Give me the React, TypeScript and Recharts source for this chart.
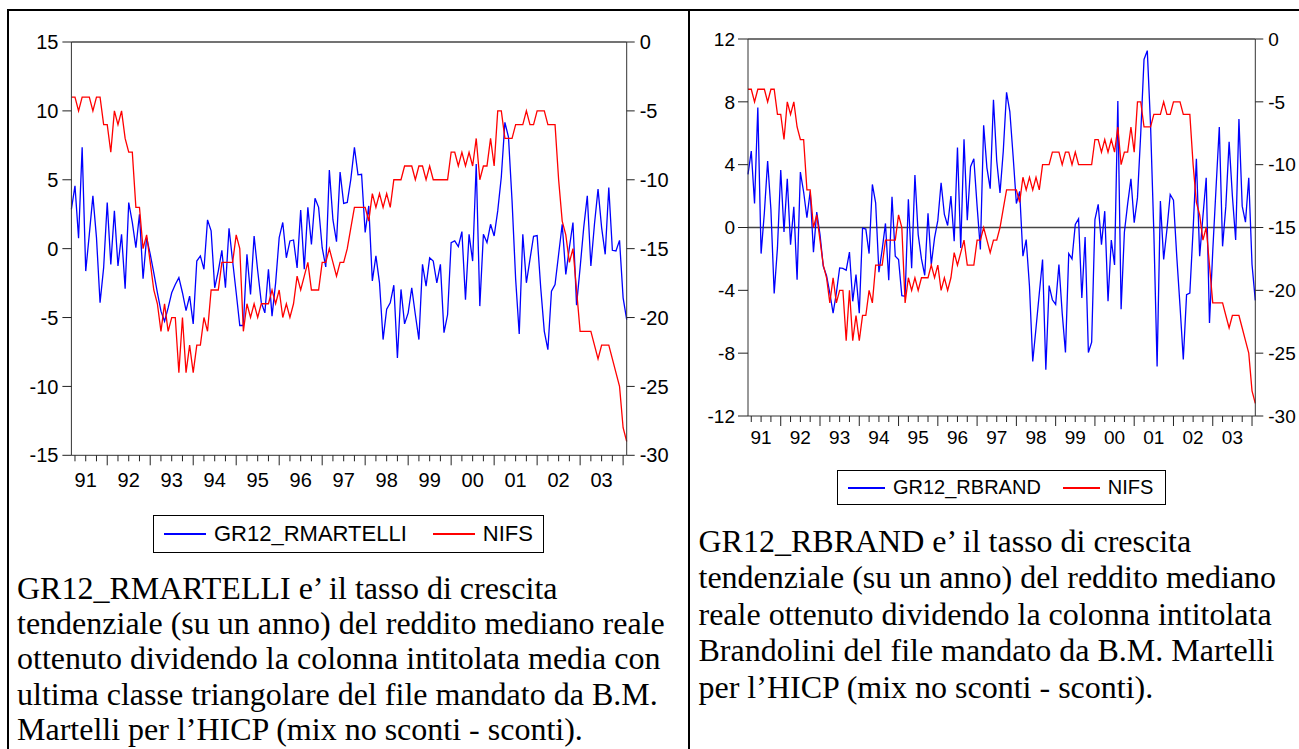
import { LineChart, Line, XAxis, YAxis, ReferenceLine, Legend } from 'recharts';

const SANS = '"Liberation Sans", Arial, sans-serif';
const SERIF = '"Liberation Serif", "Times New Roman", serif';

// monthly observations, first one is 1991M03
const FIRST_MONTH = 2;
const yearLabels = ['91', '92', '93', '94', '95', '96', '97', '98', '99', '00', '01', '02', '03'];

const BLUE = '#0000ff';
const RED = '#ff0000';

const nifs = [
  -4, -4, -5, -4, -4, -4, -5, -4, -4, -6, -6, -8,
  -5, -6, -5, -7, -8, -8, -12, -12, -15, -14, -16, -18,
  -19, -21, -19, -21, -20, -20, -24, -20, -24, -22, -24, -22,
  -22, -20, -21, -18, -18, -18, -16, -16, -16, -16, -14, -15,
  -21, -19, -20, -19, -20, -19, -19, -19, -18, -19, -18, -20,
  -19, -20, -19, -17, -18, -17, -16, -18, -18, -18, -16, -16,
  -15, -16, -17, -16, -16, -15, -13.5, -12, -12, -12, -12, -13,
  -11, -12, -11, -12, -11, -12, -10, -10, -10, -9, -9, -9,
  -10, -9, -9, -10, -9, -10, -10, -10, -10, -10, -8, -8,
  -9, -8, -9, -8, -9, -7, -10, -9, -9, -7, -9, -5,
  -5, -7, -7, -7, -6, -6, -6, -5, -6, -6, -5, -5,
  -5, -6, -6, -6, -10, -13, -14, -16, -15, -18, -21, -21,
  -21, -21, -22, -23, -22, -22, -22, -23, -24, -25, -28, -29,
];

const gr12Rmartelli = [
  2.86, 4.56, 0.75, 7.35, -1.63, 1.04, 3.83, 0.8, -3.93, -1.38, 3.35, -1.14,
  2.74, -1.26, 1.04, -2.91, 3.35, 1.9, 0.07, 2.5, -2.18, 0.8, -0.4, -1.75,
  -3.2, -4.54, -5.27, -4.3, -3.2, -2.6, -2.1, -3.2, -4.5, -3.45, -5.46, -0.9,
  -0.53, -1.5, 2.09, 1.29, -2.84, -1.63, -0.12, -2.84, 1.48, -0.9, -3.2, -5.58,
  -5.58, -0.41, -3.33, 0.92, -1.6, -3.9, -4.66, -1.5, -4.9, -2.5, 0.8, 1.9,
  -0.66, 0.56, 0.63, -1.4, 2.8, -1.5, 3.0, 0.3, 3.66, 3.0, 0.07, -1.33,
  5.7, 2.1, 0.5, 5.56, 3.28, 3.35, 5.05, 7.35, 5.36, 5.4, 1.17, 3.1,
  -2.35, -0.53, -2.48, -6.6, -4.4, -3.93, -2.65, -7.94, -2.96, -5.46, -4.66, -2.84,
  -4.78, -6.6, -1.14, -2.72, -0.66, -0.9, -2.48, -1.14, -6.1, -4.8, 0.44, 0.56,
  0.15, 1.24, -3.7, 1.04, -0.9, 6.14, -4.17, 1.04, 0.44, 1.77, 0.92, 2.74,
  5.2, 9.17, 8.1, 3.47, -2.2, -6.2, 1.04, -2.48, -0.78, 0.9, 0.95, -2.84,
  -6.0, -7.33, -3.08, -2.6, -0.41, 1.77, -1.87, 0.07, 1.9, -4.1, -1.38, 1.53,
  3.83, -1.26, 1.77, 4.32, 1.53, -0.41, 4.44, -0.12, -0.17, 0.6, -3.57, -5.15,
];

const gr12Rbrand = [
  3.38, 4.87, 1.53, 7.64, -1.66, 0.94, 4.23, 1.15, -4.2, -1.3, 3.66, -0.28,
  3.1, -1.09, 1.32, -3.32, 3.53, 2.26, 0.62, 2.3, -1.57, 0.98, -0.45, -2.47,
  -3.06, -4.17, -5.45, -4.17, -2.57, -2.6, -2.72, -1.57, -4.7, -3.0, -5.45, -0.04,
  -0.1, -1.66, 2.74, 1.57, -2.85, -1.4, 0.26, -3.36, 1.96, -1.83, -2.04, -4.34,
  -4.38, 1.79, -2.6, 3.34, -0.45, -2.0, -3.04, 0.9, -2.36, -0.66, 0.45, 2.85,
  0.83, 0.13, 2.0, -0.87, 5.09, -1.3, 5.62, 0.47, 3.87, 4.38, 1.36, -1.4,
  6.51, 3.8, 2.47, 8.13, 4.23, 2.2, 4.87, 8.6, 7.38, 4.55, 1.53, 2.3,
  -1.83, -0.77, -3.74, -8.53, -6.4, -4.2, -2.04, -9.06, -3.7, -4.6, -4.9, -2.36,
  -5.45, -7.96, -1.66, -2.0, 0.19, 0.55, -4.49, -0.6, -7.96, -7.3, 0.5, 1.47,
  -1.09, 1.04, -4.7, -0.8, -2.38, 8.06, -5.2, -0.3, 1.5, 3.1, 0.3, 1.9,
  6.0, 10.7, 11.26, 6.5, -0.3, -8.85, 1.68, -2.04, -0.13, 2.1, 1.74, -1.83,
  -5.0, -8.4, -4.28, -4.17, -0.13, 4.38, -1.83, 0.72, 3.17, -6.08, -1.5, 2.5,
  6.4, -1.2, 1.36, 5.45, 2.0, -0.8, 6.9, 1.36, 0.34, 3.17, -2.36, -4.64,
];

const martelliTicks = [-15, -10, -5, 0, 5, 10, 15];
const brandTicks = [-12, -8, -4, 0, 4, 8, 12];
const nifsTicks = [-30, -25, -20, -15, -10, -5, 0];

const rows = nifs.map((v, i) => ({
  i,
  nifs: v,
  martelli: gr12Rmartelli[i],
  brand: gr12Rbrand[i],
}));

// quarter boundaries; January ones get the long tick, July ones carry the year label
const quarterTicks = rows.map((r) => r.i).filter((i) => (i + FIRST_MONTH) % 3 === 0);

const makeMonthTick = (labelDy: number, fontSize: number) => (props: any) => {
  const { x, y, payload } = props;
  const n = payload.value + FIRST_MONTH;
  const m = n % 12;
  const len = m === 0 ? 10 : 6;
  return (
    <g>
      <line x1={x} x2={x} y1={y} y2={y + len} stroke="#222" strokeWidth={1} />
      {m === 6 && (
        <text x={x} y={y + labelDy} textAnchor="middle" fontSize={fontSize} fill="#000" fontFamily={SANS}>
          {yearLabels[Math.floor(n / 12)]}
        </text>
      )}
    </g>
  );
};

const makeLegend = (fontSize: number, pad: number, sample: number, gap: number, between: number) => (props: any) => {
  const items = props.payload || [];
  return (
    <div
      style={{
        boxSizing: 'border-box',
        width: '100%',
        height: '100%',
        border: '1px solid #000',
        background: '#fff',
        display: 'flex',
        alignItems: 'center',
        paddingLeft: pad,
        fontFamily: SANS,
        fontSize,
        color: '#000',
        whiteSpace: 'nowrap',
      }}
    >
      {items.map((p: any, k: number) => (
        <span key={p.value} style={{ display: 'flex', alignItems: 'center', marginLeft: k === 0 ? 0 : between }}>
          <svg width={sample} height={6} style={{ marginRight: gap, display: 'block' }}>
            <line
              x1={0}
              x2={sample}
              y1={3}
              y2={3}
              stroke={p.dataKey === 'nifs' ? RED : BLUE}
              strokeWidth={1.5}
              shapeRendering="crispEdges"
            />
          </svg>
          {p.value}
        </span>
      ))}
    </div>
  );
};

type PanelProps = {
  left: number;
  width: number;
  height: number;
  margin: { top: number; right: number; bottom: number; left: number };
  leftWidth: number;
  rightWidth: number;
  blueKey: string;
  blueName: string;
  leftDomain: [number, number];
  leftTicks: number[];
  zeroLine: boolean;
  fontSize: number;
  labelDy: number;
  legendStyle: any;
  legendContent: any;
  leftTickSize: number;
  leftTickMargin: number;
};

function Panel(p: PanelProps) {
  const tickStyle = { fill: '#000', fontSize: p.fontSize, fontFamily: SANS };
  return (
    <div style={{ position: 'absolute', left: p.left, top: 0 }}>
      <LineChart width={p.width} height={p.height} data={rows} margin={p.margin}>
        <XAxis
          dataKey="i"
          type="number"
          domain={[0, rows.length - 1]}
          ticks={quarterTicks}
          interval={0}
          tickSize={0}
          tickMargin={0}
          tickLine={false}
          axisLine={{ stroke: '#333' }}
          height={30}
          tick={makeMonthTick(p.labelDy, p.fontSize)}
        />
        <YAxis
          yAxisId="l"
          orientation="left"
          width={p.leftWidth}
          domain={p.leftDomain}
          ticks={p.leftTicks}
          interval={0}
          tickSize={p.leftTickSize}
          tickMargin={p.leftTickMargin}
          axisLine={{ stroke: '#333' }}
          tickLine={{ stroke: '#222' }}
          tick={tickStyle}
        />
        <YAxis
          yAxisId="r"
          orientation="right"
          width={p.rightWidth}
          domain={[-30, 0]}
          ticks={nifsTicks}
          interval={0}
          tickSize={8}
          tickMargin={5}
          axisLine={{ stroke: '#333' }}
          tickLine={{ stroke: '#222' }}
          tick={tickStyle}
        />
        <ReferenceLine yAxisId="l" y={p.leftDomain[1]} stroke="#444" strokeWidth={1.3} />
        {p.zeroLine && <ReferenceLine yAxisId="l" y={0} stroke="#444" strokeWidth={1.3} />}
        <Line
          yAxisId="l"
          type="linear"
          dataKey={p.blueKey}
          name={p.blueName}
          stroke={BLUE}
          strokeWidth={1.3}
          dot={false}
          isAnimationActive={false}
        />
        <Line
          yAxisId="r"
          type="linear"
          dataKey="nifs"
          name="NIFS"
          stroke={RED}
          strokeWidth={1.3}
          dot={false}
          isAnimationActive={false}
        />
        <Legend
          layout="vertical"
          align="center"
          verticalAlign="middle"
          wrapperStyle={p.legendStyle}
          content={p.legendContent}
        />
      </LineChart>
    </div>
  );
}

const leftNote = [
  'GR12_RMARTELLI e’ il tasso di crescita',
  'tendenziale (su un anno) del reddito mediano reale',
  'ottenuto dividendo la colonna intitolata media con',
  'ultima classe triangolare del file mandato da B.M.',
  'Martelli per l’HICP (mix no sconti - sconti).',
];

const rightNote = [
  'GR12_RBRAND e’ il tasso di crescita',
  'tendenziale (su un anno) del reddito mediano',
  'reale ottenuto dividendo la colonna intitolata',
  'Brandolini del file mandato da B.M. Martelli',
  'per l’HICP (mix no sconti - sconti).',
];

export default function App() {
  return (
    <div
      style={{
        position: 'absolute',
        left: 0,
        top: 0,
        width: 1299,
        height: 749,
        background: '#fff',
        overflow: 'hidden',
      }}
    >
      <Panel
        left={0}
        width={688}
        height={560}
        margin={{ top: 42, right: 6.3, bottom: 74.7, left: 11.4 }}
        leftWidth={60}
        rightWidth={55}
        blueKey="martelli"
        blueName="GR12_RMARTELLI"
        leftDomain={[-15, 15]}
        leftTicks={martelliTicks}
        zeroLine={false}
        fontSize={20}
        labelDy={31.5}
        leftTickSize={9}
        leftTickMargin={4}
        legendStyle={{ left: 153, top: 515, width: 391, height: 38 }}
        legendContent={makeLegend(22, 10, 42, 8, 26)}
      />
      <Panel
        left={689}
        width={610}
        height={520}
        margin={{ top: 39, right: 3.7, bottom: 74, left: 9 }}
        leftWidth={50}
        rightWidth={40}
        blueKey="brand"
        blueName="GR12_RBRAND"
        leftDomain={[-12, 12]}
        leftTicks={brandTicks}
        zeroLine={true}
        fontSize={19}
        labelDy={28}
        leftTickSize={10}
        leftTickMargin={3}
        legendStyle={{ left: 148, top: 470, width: 329, height: 35 }}
        legendContent={makeLegend(20, 10, 37, 8, 22)}
      />
      <svg width={1299} height={749} style={{ position: 'absolute', left: 0, top: 0, pointerEvents: 'none' }}>
        <line x1={7} y1={10} x2={1299} y2={10} stroke="#000" strokeWidth={2} />
        <line x1={8} y1={9} x2={8} y2={749} stroke="#000" strokeWidth={2} />
        <line x1={689} y1={9} x2={689} y2={749} stroke="#000" strokeWidth={2} />
        {leftNote.map((t, k) => (
          <text key={t} x={17} y={599 + k * 35.2} fontFamily={SERIF} fontSize={32} fill="#000">
            {t}
          </text>
        ))}
        {rightNote.map((t, k) => (
          <text key={t} x={698.5} y={551.7 + k * 36.5} fontFamily={SERIF} fontSize={32} fill="#000">
            {t}
          </text>
        ))}
      </svg>
    </div>
  );
}
